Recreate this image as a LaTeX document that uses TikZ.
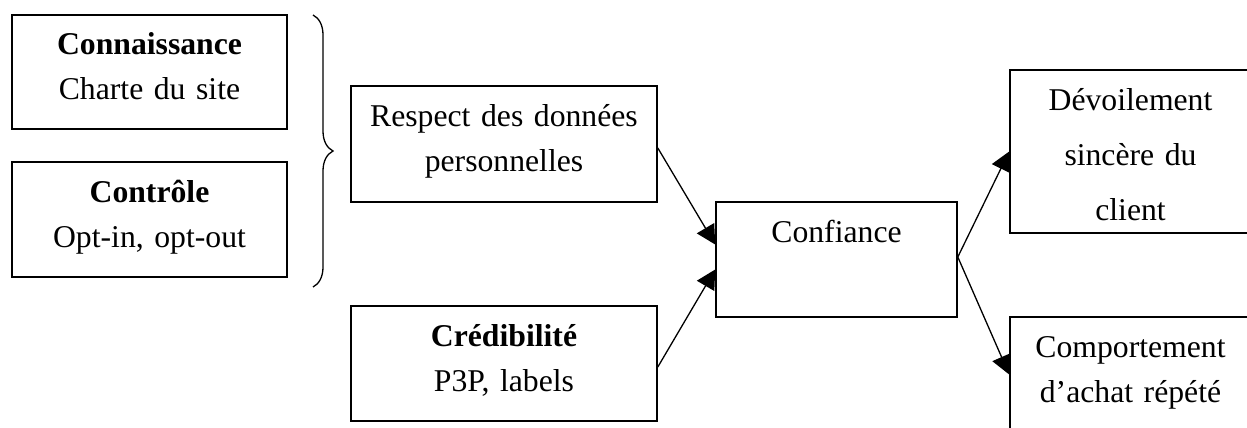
\documentclass[tikz,border=0pt]{standalone}
\usepackage{fontspec}
\setmainfont{Liberation Serif}
\usetikzlibrary{decorations.pathreplacing, arrows.meta}

\begin{document}
\begin{tikzpicture}[x=1pt, y=1pt, node distance=150pt,
    font=\fontsize{31.7}{45}\selectfont,
    textbox/.style={draw, line width=1.6pt, fill=white, inner sep=0pt, align=center,
        text height=40pt, text depth=75pt},
    link/.style={-{Triangle[length=19pt, width=20pt]}, line width=1.3pt}]
    \useasboundingbox (0,0) rectangle (1247,-428);
    \clip (0,0) rectangle (1247,-428);

    % Place the boxes on the left
    \node (CON) [textbox, text width=275pt, text depth=74pt] at (149.5,-72) {\textbf{Connaissance}\\Charte du site};
    \node (CTL) [textbox, text width=275pt, below of=CON, yshift=2.5pt] {\textbf{Contrôle}\\Opt-in, opt-out};

    % Place the brace
    \coordinate (BR1) at (313,-15);
    \coordinate (BR2) at (313,-287);
    \draw[decorate, decoration={brace, amplitude=20pt}, line width=1.3pt] (BR1) -- (BR2);

    % Place the middle boxes
    \node (RESP) [textbox, text width=306pt, text depth=76pt, right of=CON, xshift=204.5pt, yshift=-72pt] {Respect des données\\personnelles};
    \node (CRED) [textbox, text width=306pt, below of=RESP, yshift=-69.5pt] {\textbf{Crédibilité}\\P3P, labels};
    \node (CONF) [textbox, text width=241pt, right of=RESP, xshift=182.5pt, yshift=-115.5pt] {Confiance};

    % Place the boxes on the right
    \node (DEV) [textbox, text width=241pt, text depth=123pt, font=\fontsize{31.7}{55}\selectfont,
        right of=CONF, xshift=144pt, yshift=108pt] {Dévoilement\\sincère du\\client};
    \node (COMP) [textbox, text width=241pt, below of=DEV, yshift=-73pt] {Comportement\\d’achat répété};

    % Draw the arrows
    \draw[link] ([yshift=-4pt]RESP.east) -- ([yshift=15pt]CONF.west);
    \draw[link] ([yshift=-3.5pt]CRED.east) -- ([yshift=-10pt]CONF.west);
    \draw[link] ([yshift=2.5pt]CONF.east) -- (DEV.west);
    \draw[link] ([yshift=2.5pt]CONF.east) -- (COMP.west);
\end{tikzpicture}
\end{document}
